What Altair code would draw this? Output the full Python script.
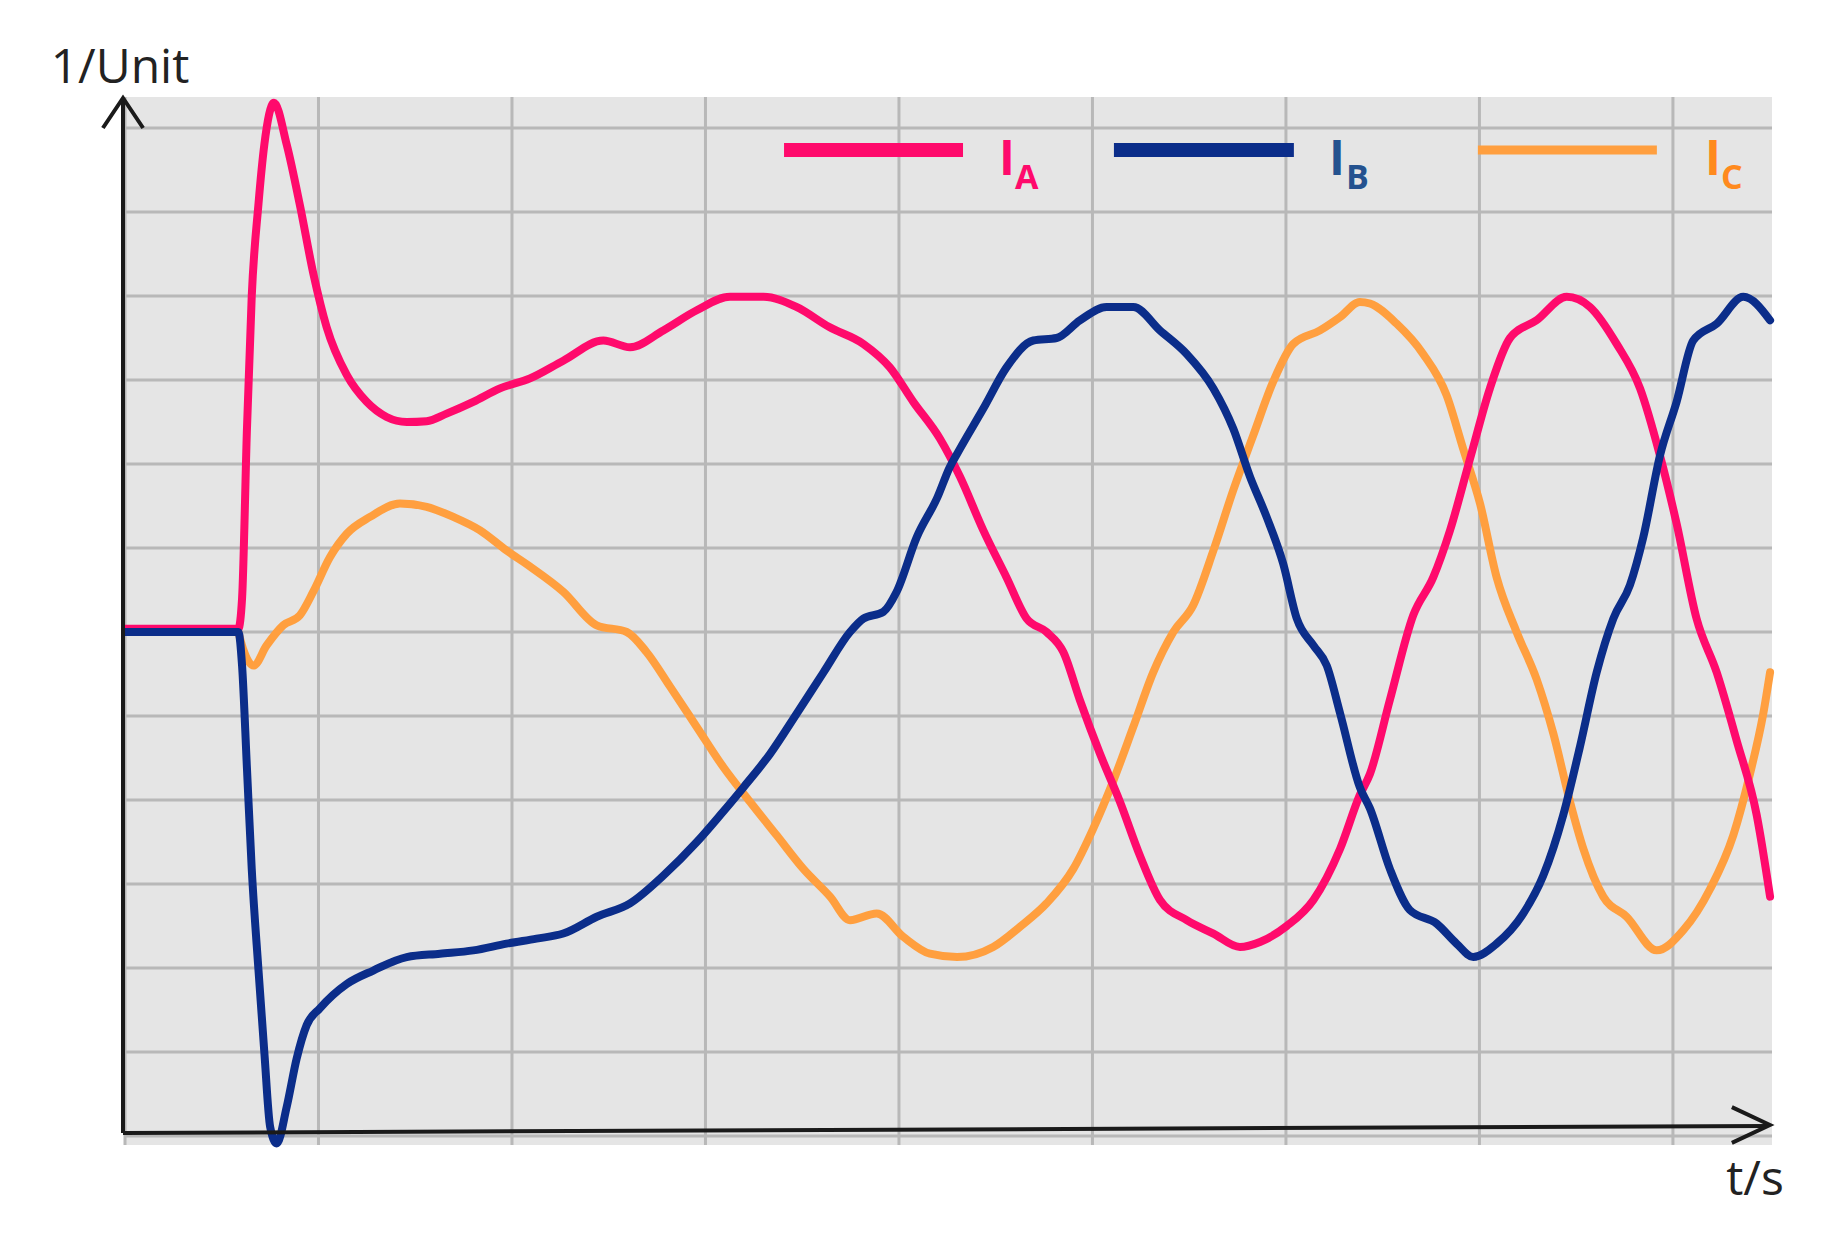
import altair as alt
import pandas as pd

# ---- series data (x in grid columns, y in grid rows / units) ----
ia_x = [0, 0.586, 0.605, 0.63, 0.655, 0.69, 0.72, 0.77, 0.836, 0.904, 0.973, 1.042, 1.146,
        1.249, 1.352, 1.456, 1.559, 1.662, 1.8, 1.938, 2.093, 2.265, 2.472, 2.61, 2.782,
        2.955, 3.127, 3.3, 3.47, 3.64, 3.816, 3.953, 4.074, 4.212, 4.315, 4.436, 4.556,
        4.66, 4.763, 4.85, 4.935, 5.039, 5.142, 5.245, 5.349, 5.487, 5.625, 5.762, 5.866,
        6.004, 6.142, 6.28, 6.382, 6.434, 6.537, 6.658, 6.761, 6.848, 6.951, 7.054, 7.158,
        7.295, 7.451, 7.571, 7.709, 7.83, 7.933, 8.019, 8.122, 8.226, 8.329, 8.433, 8.502]
ia_y = [0.04, 0.04, 0.4, 2.4, 4.0, 5.1, 5.8, 6.3, 5.8, 5.08, 4.27, 3.63, 3.06,
        2.74, 2.56, 2.5, 2.51, 2.6, 2.74, 2.9, 3.02, 3.23, 3.47, 3.39, 3.59,
        3.83, 3.99, 3.99, 3.87, 3.63, 3.43, 3.15, 2.74, 2.3, 1.85, 1.21, 0.65,
        0.16, 0.0, -0.24, -0.81, -1.45, -2.02, -2.66, -3.19, -3.43, -3.59, -3.75, -3.69,
        -3.5, -3.19, -2.58, -1.94, -1.69, -0.81, 0.2, 0.65, 1.21, 2.06, 2.9, 3.5,
        3.71, 3.99, 3.87, 3.43, 2.9, 2.1, 1.29, 0.16, -0.48, -1.29, -2.18, -3.15]

ib_x = [0, 0.586, 0.605, 0.63, 0.655, 0.69, 0.72, 0.75, 0.784, 0.836, 0.887, 0.939, 1.007,
        1.146, 1.283, 1.456, 1.628, 1.8, 1.972, 2.127, 2.265, 2.438, 2.61, 2.782, 2.955,
        3.076, 3.196, 3.334, 3.472, 3.61, 3.747, 3.816, 3.919, 3.988, 4.092, 4.2, 4.26,
        4.315, 4.436, 4.556, 4.694, 4.815, 4.935, 5.073, 5.211, 5.349, 5.487, 5.625, 5.728,
        5.814, 5.9, 5.986, 6.056, 6.142, 6.211, 6.28, 6.382, 6.434, 6.537, 6.64, 6.778,
        6.882, 6.968, 7.089, 7.227, 7.33, 7.433, 7.519, 7.606, 7.692, 7.778, 7.847, 7.933,
        8.019, 8.105, 8.226, 8.364, 8.502]
ib_y = [0, 0, -0.4, -1.61, -2.82, -4.03, -5.0, -5.89, -6.09, -5.65, -5.08, -4.68, -4.48,
        -4.19, -4.03, -3.87, -3.83, -3.79, -3.71, -3.65, -3.59, -3.39, -3.23, -2.9, -2.5,
        -2.18, -1.85, -1.45, -0.97, -0.48, 0.0, 0.16, 0.24, 0.48, 1.13, 1.61, 1.95,
        2.18, 2.66, 3.15, 3.47, 3.5, 3.71, 3.87, 3.87, 3.59, 3.31, 2.9, 2.42,
        1.85, 1.37, 0.81, 0.16, -0.16, -0.4, -0.97, -1.85, -2.1, -2.82, -3.31, -3.47,
        -3.71, -3.87, -3.71, -3.35, -2.9, -2.18, -1.37, -0.48, 0.16, 0.56, 1.13, 2.1,
        2.74, 3.47, 3.67, 3.99, 3.71]

ic_x = [0.586, 0.61, 0.664, 0.732, 0.818, 0.904, 0.973, 1.059, 1.146, 1.266, 1.421, 1.559,
        1.697, 1.835, 1.972, 2.093, 2.265, 2.438, 2.593, 2.696, 2.817, 2.955, 3.093, 3.23,
        3.368, 3.506, 3.644, 3.747, 3.885, 4.023, 4.16, 4.3, 4.487, 4.625, 4.763, 4.901,
        5.004, 5.108, 5.211, 5.314, 5.418, 5.521, 5.625, 5.728, 5.831, 5.934, 6.038, 6.176,
        6.28, 6.382, 6.434, 6.572, 6.709, 6.83, 6.916, 7.003, 7.089, 7.192, 7.295, 7.382,
        7.468, 7.537, 7.64, 7.761, 7.916, 8.054, 8.192, 8.312, 8.398, 8.467, 8.502]
ic_y = [0.0, -0.2, -0.4, -0.16, 0.08, 0.2, 0.48, 0.89, 1.17, 1.37, 1.53, 1.49,
        1.37, 1.21, 0.97, 0.78, 0.48, 0.08, 0.0, -0.24, -0.65, -1.13, -1.61, -2.02,
        -2.42, -2.82, -3.15, -3.43, -3.35, -3.63, -3.83, -3.87, -3.75, -3.51, -3.23, -2.82,
        -2.34, -1.77, -1.13, -0.48, 0.0, 0.32, 0.97, 1.69, 2.34, 2.98, 3.43, 3.59,
        3.75, 3.93, 3.91, 3.67, 3.31, 2.82, 2.18, 1.53, 0.65, 0.0, -0.56, -1.21,
        -2.02, -2.58, -3.15, -3.39, -3.79, -3.55, -3.06, -2.42, -1.69, -0.97, -0.48]

series_names = ["IC", "IA", "IB"]          # drawing order: bottom -> top
series_colors = ["#ff9f3f", "#ff0a6c", "#0b2d8a"]
x_grid = [0, 1, 2, 3, 4, 5, 6, 7, 8]
y_grid = [-6, -5, -4, -3, -2, -1, 0, 1, 2, 3, 4, 5, 6]

rows = []
for name, xs_, ys_ in [("IC", ic_x, ic_y), ("IA", ia_x, ia_y), ("IB", ib_x, ib_y)]:
    for i, (a, b) in enumerate(zip(xs_, ys_)):
        rows.append({"series": name, "t": a, "v": b, "i": i})
df = pd.DataFrame(rows)

xscale = alt.Scale(domain=[0, 8.512], nice=False, zero=False)
yscale = alt.Scale(domain=[-6.107, 6.369], nice=False, zero=False)

grid_color = "#b8b8b8"
vgrid = alt.Chart(pd.DataFrame({"g": x_grid})).mark_rule(color=grid_color, strokeWidth=3).encode(
    x=alt.X("g:Q", scale=xscale, axis=None))
hgrid = alt.Chart(pd.DataFrame({"g": y_grid})).mark_rule(color=grid_color, strokeWidth=3).encode(
    y=alt.Y("g:Q", scale=yscale, axis=None))

curves = alt.Chart(df).mark_line(strokeWidth=8, strokeJoin="round", strokeCap="round",
                                 interpolate="monotone").encode(
    x=alt.X("t:Q", scale=xscale, axis=None),
    y=alt.Y("v:Q", scale=yscale, axis=None),
    color=alt.Color("series:N", scale=alt.Scale(domain=series_names, range=series_colors), legend=None),
    order="i:Q",
    detail="series:N",
)

def X(v):
    return alt.XDatum(v, scale=xscale, axis=None)

def Y(v):
    return alt.YDatum(v, scale=yscale, axis=None)

base = alt.Chart(pd.DataFrame({"k": [0]}))

axis_color = "#1a1a1a"
y_axis_line = base.mark_rule(color=axis_color, strokeWidth=4).encode(
    x=X(-0.0103), y=Y(-5.964), y2=alt.Y2Datum(6.34))
x_axis_line = base.mark_rule(color=axis_color, strokeWidth=4).encode(
    x=X(-0.0103), x2=alt.X2Datum(8.49), y=Y(-5.964), y2=alt.Y2Datum(-5.88))

up_arrow = base.mark_point(shape="M-0.67,1L0,0L0.67,1", filled=False, strokeWidth=4,
                           color=axis_color, size=3600, opacity=1).encode(
    x=X(-0.0103), y=Y(6.357))
right_arrow = base.mark_point(shape="M-1,-0.47L0,0L-1,0.47", filled=False, strokeWidth=4,
                              color=axis_color, size=5776, opacity=1).encode(
    x=X(8.501), y=Y(-5.869))

y_title = base.mark_text(text="1/Unit", font="Open Sans", fontSize=48, color="#222222",
                         align="center", baseline="alphabetic").encode(
    x=X(-0.026), y=Y(6.536))
x_title = base.mark_text(text="t/s", font="Open Sans", fontSize=48, color="#222222",
                         align="center", baseline="alphabetic").encode(
    x=X(8.424), y=Y(-6.70))

# legend
legend_labels = ["A", "B", "C"]
legend_line_colors = ["#ff0a6c", "#0b2d8a", "#ff9f3f"]
legend_text_colors = ["#ff0a6c", "#24528f", "#ff8a1e"]
leg_x0 = [3.406, 5.111, 6.992]
leg_x1 = [4.331, 6.041, 7.917]
leg_w = [14, 14, 9]
leg_i_x = [4.558, 6.264, 8.207]
leg_sub_x = [4.600, 6.310, 8.248]

legend_layers = []
for lab, lc, tc, a, b, w, ix, sx in zip(legend_labels, legend_line_colors, legend_text_colors,
                                         leg_x0, leg_x1, leg_w, leg_i_x, leg_sub_x):
    legend_layers.append(base.mark_rule(color=lc, strokeWidth=w).encode(
        x=X(a), x2=alt.X2Datum(b), y=Y(5.738)))
    legend_layers.append(base.mark_text(text="I", font="Open Sans", fontWeight="bold", fontSize=48,
                                        color=tc, align="center", baseline="alphabetic").encode(
        x=X(ix), y=Y(5.44)))
    legend_layers.append(base.mark_text(text=lab, font="Open Sans", fontWeight="bold", fontSize=34,
                                        color=tc, align="left", baseline="alphabetic").encode(
        x=X(sx), y=Y(5.274)))

chart = alt.layer(vgrid, hgrid, curves, y_axis_line, x_axis_line, up_arrow, right_arrow,
                  y_title, x_title, *legend_layers).properties(
    width=1647, height=1048,
    padding={"left": 117, "top": 89, "right": 40, "bottom": 80},
    autosize=alt.AutoSizeParams(type="none"),
).configure_view(fill="#e5e5e5", stroke=None)

chart.save("out.html", embed_options={"renderer": "svg", "actions": False})
